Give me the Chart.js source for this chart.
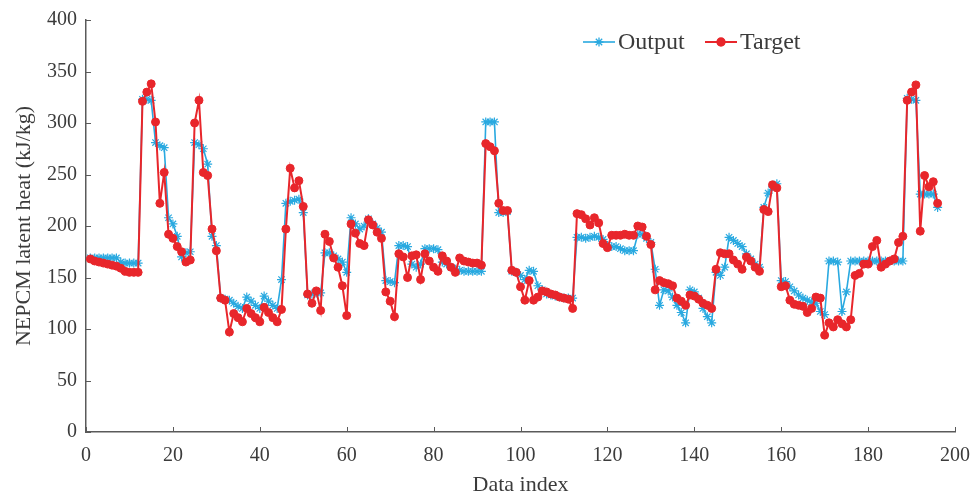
<!DOCTYPE html>
<html>
<head>
<meta charset="utf-8">
<script src="https://cdn.jsdelivr.net/npm/chart.js@4.4.1/dist/chart.umd.min.js"></script>
<style>
  body { margin: 0; background: #fff; }
  #wrap { width: 972px; height: 496px; }
</style>
</head>
<body>
<div id="wrap"><canvas id="myChart" width="972" height="496"></canvas></div>
<script>
// measured values, data index 1..196
const target = [
  168,166,165,164,163,162,161,159,156,155,155,155,
  321,330,338,301,222,252,192,188,180,175,165,167,
  300,322,252,249,197,176,130,128,97,
  115,111,107,120,115,111,107,121,116,111,107,119,
  197,256,237,244,219,
  134,125,137,118,192,185,169,160,142,113,
  202,193,183,181,206,201,194,188,
  136,127,112,
  173,170,150,171,172,148,173,166,160,156,171,166,160,155,169,166,165,164,164,162,
  280,277,273,222,215,215,
  157,155,141,128,147,128,131,137,136,134,133,131,130,129,120,
  212,211,207,201,208,203,183,179,191,191,191,192,191,191,200,199,190,182,
  138,147,145,144,142,130,127,123,133,132,129,125,123,120,
  158,174,173,173,167,163,158,170,166,160,156,
  216,214,240,237,141,142,128,124,123,122,116,120,131,130,94,
  106,102,109,105,102,109,
  152,154,163,163,180,186,160,163,166,168,184,190,
  322,330,337,195,249,238,243,222
];

const output = [
  169,169,169,169,169,169,169,165,164,164,164,164,
  323,323,322,281,278,276,208,202,190,170,174,175,
  281,279,275,260,190,181,130,129,128,
  125,122,120,131,127,123,120,132,127,123,120,148,
  222,224,225,226,213,
  133,134,135,135,174,174,171,168,165,155,
  208,202,197,200,207,202,198,194,
  147,146,145,
  181,181,180,163,160,163,178,178,178,177,165,163,160,158,157,156,156,156,156,156,
  301,301,301,213,213,214,
  156,155,152,148,157,156,142,138,134,133,132,131,130,130,130,
  189,189,188,189,190,189,187,181,180,180,178,176,176,176,192,192,188,184,
  158,123,138,137,131,123,116,106,138,136,130,120,112,106,
  155,152,160,189,186,183,180,173,168,163,160,
  218,232,238,241,147,146,141,137,133,130,128,126,125,117,114,
  166,166,165,117,136,166,
  166,166,166,166,166,166,166,166,166,166,166,166,
  324,323,322,231,231,231,231,218
];

const index = target.map((v, i) => i + 1);

const xTicks = [0, 20, 40, 60, 80, 100, 120, 140, 160, 180, 200];
const yTicks = [0, 50, 100, 150, 200, 250, 300, 350, 400];

const blue = '#29a9e0';
const red = '#e8262b';
const axisColor = '#5a5a5a';
const textColor = '#3b3b3b';
const serif = "'Liberation Serif', 'DejaVu Serif', serif";

// small ticks pointing into the plot, like the original figure
const inwardTicks = {
  id: 'inwardTicks',
  afterDraw(chart) {
    const {ctx, chartArea, scales} = chart;
    ctx.save();
    ctx.strokeStyle = axisColor;
    ctx.lineWidth = 1;
    xTicks.forEach(v => {
      const px = Math.round(scales.x.getPixelForValue(v)) + 0.5;
      ctx.beginPath();
      ctx.moveTo(px, chartArea.bottom);
      ctx.lineTo(px, chartArea.bottom - 5);
      ctx.stroke();
    });
    yTicks.forEach(v => {
      const py = Math.round(scales.y.getPixelForValue(v)) + 0.5;
      ctx.beginPath();
      ctx.moveTo(chartArea.left, py);
      ctx.lineTo(chartArea.left + 5, py);
      ctx.stroke();
    });
    ctx.restore();
  }
};

// legend drawn inside the plot, line + marker + label
const lineLegend = {
  id: 'lineLegend',
  afterDraw(chart) {
    const ctx = chart.ctx;
    const items = [
      {label: 'Output', color: blue, style: 'star', radius: 4.5, lw: 1.6, x: 583},
      {label: 'Target', color: red, style: 'circle', radius: 4, lw: 2, x: 705}
    ];
    const y = 42;
    ctx.save();
    ctx.font = '24px ' + serif;
    ctx.textBaseline = 'middle';
    items.forEach(it => {
      ctx.strokeStyle = it.color;
      ctx.fillStyle = it.color;
      ctx.lineWidth = it.lw;
      ctx.beginPath();
      ctx.moveTo(it.x, y);
      ctx.lineTo(it.x + 32, y);
      ctx.stroke();
      ctx.lineWidth = 1.3;
      Chart.helpers.drawPoint(ctx, {pointStyle: it.style, radius: it.radius, borderWidth: 1.3}, it.x + 16, y);
      if (it.style === 'circle') ctx.fill();
      ctx.fillStyle = textColor;
      ctx.fillText(it.label, it.x + 35, y + 1);
    });
    ctx.restore();
  }
};

const myChart = new Chart(document.getElementById('myChart'), {
  type: 'line',
  data: {
    datasets: [
      {
        label: 'Output',
        data: index.map((x, i) => ({x: x, y: output[i]})),
        borderColor: blue,
        backgroundColor: blue,
        borderWidth: 1.6,
        pointStyle: 'star',
        pointRadius: 4.5,
        pointBorderWidth: 1.2,
        order: 2
      },
      {
        label: 'Target',
        data: index.map((x, i) => ({x: x, y: target[i]})),
        borderColor: red,
        backgroundColor: red,
        borderWidth: 2,
        pointStyle: 'circle',
        pointRadius: 4,
        pointBorderWidth: 1,
        order: 1
      }
    ]
  },
  options: {
    responsive: false,
    animation: false,
    devicePixelRatio: 1,
    layout: { padding: { left: 0, right: 17, top: 20, bottom: 0 } },
    plugins: {
      legend: { display: false },
      tooltip: { enabled: false }
    },
    scales: {
      x: {
        type: 'linear',
        min: 0,
        max: 200,
        afterBuildTicks: s => { s.ticks = xTicks.map(v => ({value: v})); },
        afterFit: s => { s.height = 64; s.paddingLeft = 0; s.paddingRight = 0; },
        grid: { display: false, drawTicks: false },
        border: { display: true, color: axisColor, width: 1.5 },
        ticks: { padding: 12, color: textColor, font: { family: serif, size: 20 } },
        title: {
          display: true,
          text: 'Data index',
          color: textColor,
          font: { family: serif, size: 22, lineHeight: 1 },
          padding: { top: 0, bottom: 0 }
        }
      },
      y: {
        min: 0,
        max: 400,
        afterBuildTicks: s => { s.ticks = yTicks.map(v => ({value: v})); },
        afterFit: s => { s.width = 86; s.paddingTop = 0; s.paddingBottom = 0; },
        grid: { display: false, drawTicks: false },
        border: { display: true, color: axisColor, width: 1.5 },
        ticks: { padding: 9, color: textColor, font: { family: serif, size: 20 } },
        title: {
          display: true,
          text: 'NEPCM latent heat (kJ/kg)',
          color: textColor,
          font: { family: serif, size: 22, lineHeight: 1 },
          padding: { top: 13, bottom: 0 }
        }
      }
    }
  },
  plugins: [inwardTicks, lineLegend]
});
</script>
</body>
</html>
